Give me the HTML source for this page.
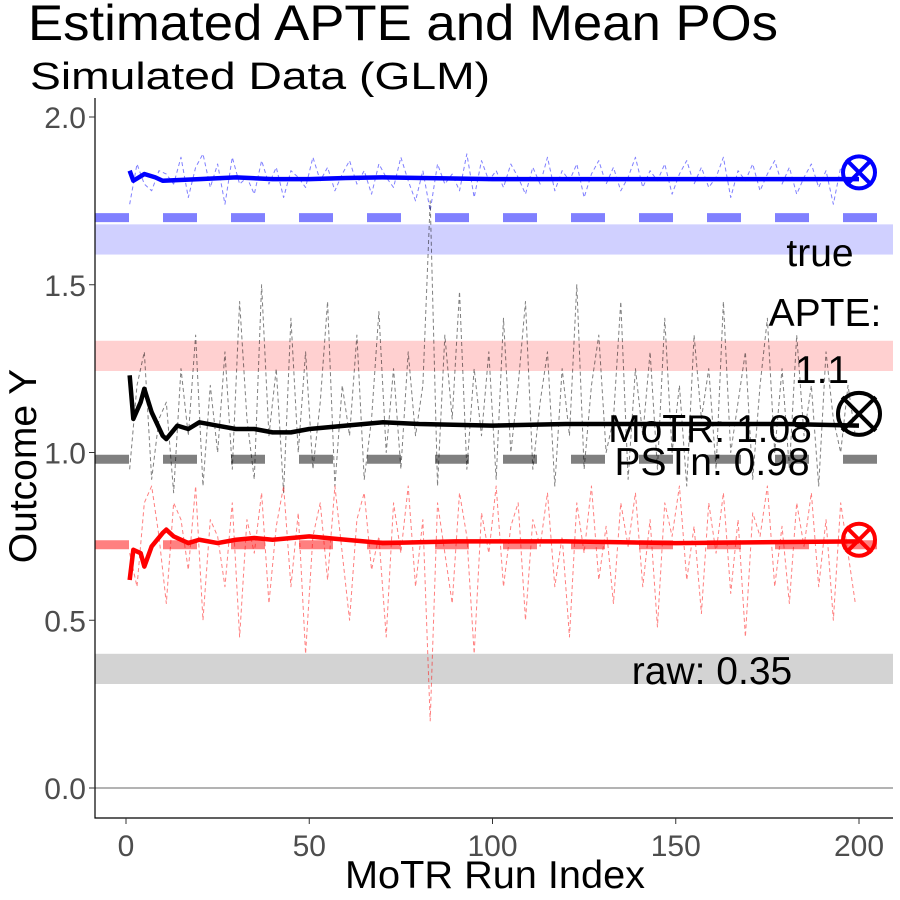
<!DOCTYPE html>
<html><head><meta charset="utf-8"><style>
body{margin:0;background:#fff;}
svg{display:block;font-family:"Liberation Sans",sans-serif;}
</style></head><body>
<svg id="chart" width="900" height="900" viewBox="0 0 900 900">
<text x="28" y="40" font-size="50" textLength="750" lengthAdjust="spacingAndGlyphs">Estimated APTE and Mean POs</text>
<text x="30" y="89" font-size="38" textLength="460" lengthAdjust="spacingAndGlyphs">Simulated Data (GLM)</text>
<text transform="translate(36,466) rotate(-90)" text-anchor="middle" font-size="39">Outcome Y</text>
<text x="495" y="888" text-anchor="middle" font-size="39" textLength="300" lengthAdjust="spacingAndGlyphs">MoTR Run Index</text>
<g id="bands"></g><g id="noise"></g><g id="means"></g><g id="axes"></g><g id="labels"></g>
</svg>
<script>
const runsNoise = Array.from({length:100},(_,i)=>1+2*i);
const blueNoise = [1.74,1.86,1.80,1.78,1.84,1.83,1.80,1.88,1.76,1.85,1.89,1.79,1.86,1.74,1.88,1.80,1.82,1.77,1.87,1.80,1.85,1.76,1.84,1.82,1.79,1.88,1.81,1.85,1.78,1.83,1.87,1.80,1.84,1.77,1.86,1.82,1.79,1.88,1.81,1.75,1.84,1.72,1.86,1.80,1.83,1.78,1.89,1.76,1.87,1.81,1.84,1.79,1.86,1.82,1.77,1.85,1.80,1.88,1.78,1.84,1.81,1.86,1.76,1.83,1.87,1.80,1.85,1.78,1.82,1.88,1.79,1.84,1.81,1.86,1.77,1.83,1.87,1.80,1.85,1.79,1.82,1.88,1.76,1.84,1.81,1.86,1.78,1.83,1.87,1.80,1.85,1.77,1.82,1.86,1.79,1.84,1.74,1.85,1.80,1.82];
const blackNoise = [0.95,1.20,1.30,0.92,1.10,1.15,0.88,1.25,1.05,1.35,0.90,1.20,1.00,1.30,0.95,1.45,1.10,0.92,1.50,1.05,1.25,0.88,1.40,1.00,1.30,0.95,1.15,1.45,0.90,1.20,1.05,1.35,0.92,1.10,1.42,1.00,1.25,0.95,1.30,1.05,1.20,1.75,0.90,1.35,1.10,1.48,0.95,1.25,1.05,1.30,0.92,1.40,1.00,1.20,1.45,0.95,1.15,1.30,0.90,1.25,1.05,1.50,0.95,1.20,1.35,1.00,1.10,1.45,0.92,1.25,1.05,1.30,0.95,1.40,1.00,1.20,0.90,1.35,1.10,1.25,0.95,1.45,1.00,1.15,1.30,0.92,1.20,1.40,1.00,1.25,0.95,1.35,1.05,1.20,0.90,1.30,1.10,1.00,1.20,1.05];
const redNoise = [0.70,0.60,0.85,0.90,0.75,0.55,0.85,0.80,0.65,0.90,0.50,0.80,0.75,0.60,0.85,0.45,0.80,0.70,0.88,0.55,0.78,0.90,0.60,0.82,0.40,0.75,0.85,0.62,0.90,0.70,0.50,0.80,0.88,0.65,0.75,0.45,0.85,0.70,0.90,0.60,0.80,0.20,0.85,0.70,0.55,0.88,0.75,0.40,0.82,0.70,0.90,0.60,0.78,0.85,0.50,0.80,0.72,0.88,0.60,0.75,0.45,0.85,0.70,0.90,0.62,0.78,0.55,0.85,0.72,0.88,0.60,0.80,0.48,0.85,0.75,0.90,0.62,0.78,0.52,0.85,0.70,0.88,0.58,0.80,0.45,0.82,0.75,0.90,0.60,0.78,0.55,0.85,0.72,0.88,0.60,0.80,0.50,0.85,0.70,0.55];
const blueMeanRuns = [1,2,5,8,10,20,30,40,50,60,70,100,150,200];
const blueMean = [1.84,1.81,1.83,1.82,1.81,1.815,1.82,1.815,1.815,1.818,1.82,1.815,1.815,1.815];
const blackMeanRuns = [1,2,4,5,7,10,11,14,17,20,25,30,35,40,45,50,60,70,80,100,120,150,180,200];
const blackMean = [1.23,1.10,1.15,1.19,1.12,1.05,1.04,1.08,1.07,1.09,1.08,1.07,1.07,1.06,1.06,1.07,1.08,1.09,1.085,1.08,1.085,1.085,1.085,1.08];
const redMeanRuns = [1,2,4,5,7,10,11,13,17,20,25,30,35,40,50,60,70,90,120,150,200];
const redMean = [0.62,0.71,0.70,0.66,0.72,0.76,0.77,0.75,0.73,0.74,0.73,0.74,0.745,0.74,0.75,0.74,0.73,0.735,0.735,0.73,0.735];
const yTicks = [0,0.5,1.0,1.5,2.0];
const yTickLabels = ["0.0","0.5","1.0","1.5","2.0"];
const xTicks = [0,50,100,150,200];
const refValues = [1.70,0.98,0.725];
const bandLows = [1.59,1.243,0.31];
const bandHighs = [1.68,1.333,0.40];
const markerValues = [1.835,1.115,0.74];

const X = v => 126 + v*3.665;
const Y = v => 788 - v*335.5;
const NS = "http://www.w3.org/2000/svg";
function mk(parent, tag, attrs){const e=document.createElementNS(NS,tag);for(const k in attrs)e.setAttribute(k,attrs[k]);document.getElementById(parent).appendChild(e);return e;}
const L=95,R=893,T=98,B=818;

const bandColors=["#d0d0ff","#ffd0d0","#d3d3d3"];
bandLows.forEach((lo,i)=>{
  const r=mk("bands","rect",{x:L,y:Y(bandHighs[i]),width:R-L,height:Y(lo)-Y(bandHighs[i]),fill:bandColors[i]});
  
  
});
const zl=mk("bands","line",{x1:L,x2:R,y1:Y(0),y2:Y(0),stroke:"#b3b3b3","stroke-width":2});


const refColors=["#8080ff","#808080","#ff8080"];
refValues.forEach((v,i)=>{
  const l=mk("bands","line",{x1:L,x2:R,y1:Y(v),y2:Y(v),stroke:refColors[i],"stroke-width":9,"stroke-dasharray":"34,34"});
  
  
});

function poly(g,runs,vals,color,w,dash,op){
  const p=mk(g,"polyline",{points:runs.map((r,i)=>X(r)+","+Y(vals[i])).join(" "),fill:"none",stroke:color,"stroke-width":w,"stroke-linejoin":"round"});
  if(dash)p.setAttribute("stroke-dasharray",dash);
  if(op)p.setAttribute("stroke-opacity",op);
  return p;
}
let p;
p=poly("noise",runsNoise,blueNoise,"#0000ff",1,"4,3",0.5);


p=poly("noise",runsNoise,blackNoise,"#000000",1,"4,3",0.5);


p=poly("noise",runsNoise,redNoise,"#ff0000",1,"4,3",0.5);


p=poly("means",blueMeanRuns,blueMean,"#0000ff",4.5);


p=poly("means",blackMeanRuns,blackMean,"#000000",4.5);


p=poly("means",redMeanRuns,redMean,"#ff0000",4.5);



const mColors=["#0000ff","#000000","#ff0000"],mR=[16,21,16];
markerValues.forEach((v,i)=>{
  const cx=X(200),cy=Y(v),r=mR[i],d=r*0.8;
  const g=mk("means","g",{stroke:mColors[i],"stroke-width":4,fill:"none"});
  
  
  g.innerHTML=`<circle cx="${cx}" cy="${cy}" r="${r}"/><line x1="${cx-d}" y1="${cy-d}" x2="${cx+d}" y2="${cy+d}"/><line x1="${cx-d}" y1="${cy+d}" x2="${cx+d}" y2="${cy-d}"/>`;
});

const ax=mk("axes","path",{d:`M${L},${T}V${B}H${R}`,stroke:"#000",fill:"none","stroke-width":1.2});


yTicks.forEach((v,i)=>{
  mk("axes","line",{x1:L-6,x2:L,y1:Y(v),y2:Y(v),stroke:"#333"});
  const t=mk("axes","text",{x:L-9,y:Y(v)+11,"text-anchor":"end","font-size":30,fill:"#4d4d4d"});
  t.textContent=yTickLabels[i];
  
  
});
xTicks.forEach(v=>{
  mk("axes","line",{x1:X(v),x2:X(v),y1:B,y2:B+6,stroke:"#333"});
  const t=mk("axes","text",{x:X(v),y:B+38,"text-anchor":"middle","font-size":30,fill:"#4d4d4d"});
  t.textContent=v;
  
  
});

const labs=[["true",820,266],["APTE:",825,326],["1.1",822,383],["MoTR: 1.08",710,442],["PSTn: 0.98",712,475],["raw: 0.35",712,684]];
labs.forEach(a=>{
  const t=mk("labels","text",{x:a[1],y:a[2],"text-anchor":"middle","font-size":39});
  t.textContent=a[0];
  
  
});
</script>
</body></html>
